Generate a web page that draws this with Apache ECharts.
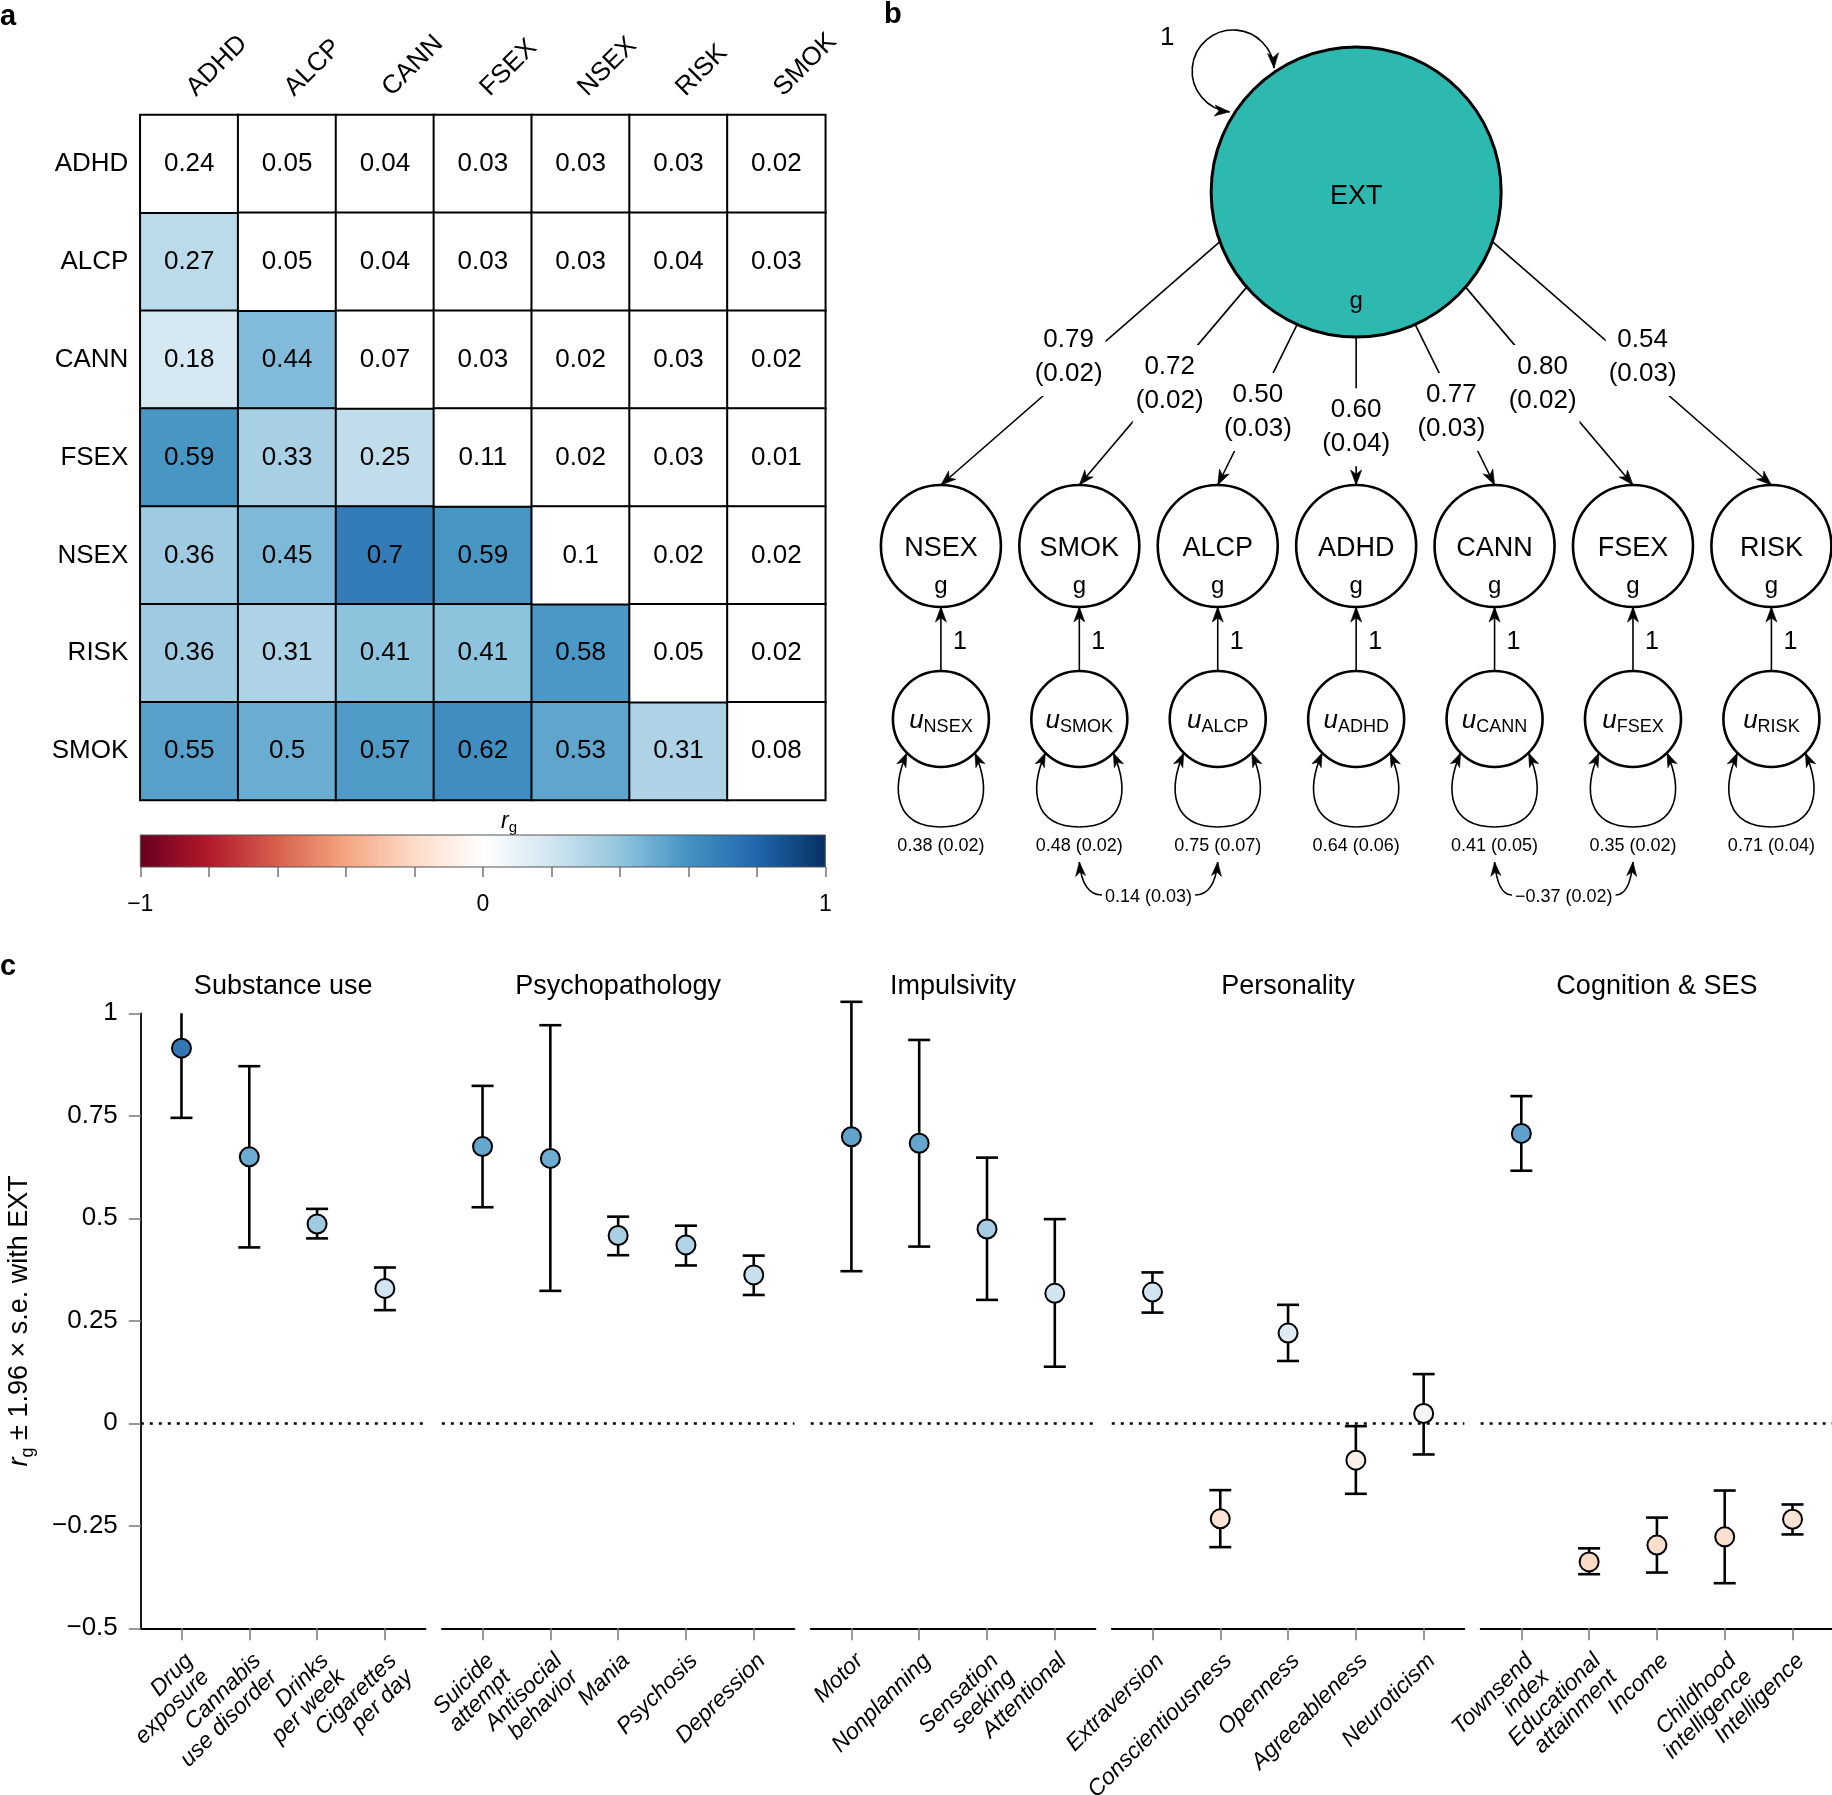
<!DOCTYPE html>
<html>
<head>
<meta charset="utf-8">
<title>Externalizing factor: genetic correlations</title>
<script src="https://cdn.jsdelivr.net/npm/echarts@6/dist/echarts.min.js"></script>
<style>
html, body { margin: 0; padding: 0; background: #fff; }
#chart { width: 1832px; height: 1795px; }
</style>
</head>
<body>
<div id="chart"></div>
<script>
// ======================= DATA =======================
// Panel a: lower triangle = rg, diagonal = h2, upper triangle = s.e.
const matrixTraits = ['ADHD', 'ALCP', 'CANN', 'FSEX', 'NSEX', 'RISK', 'SMOK'];
const rowADHD = [0.24, 0.05, 0.04, 0.03, 0.03, 0.03, 0.02];
const rowALCP = [0.27, 0.05, 0.04, 0.03, 0.03, 0.04, 0.03];
const rowCANN = [0.18, 0.44, 0.07, 0.03, 0.02, 0.03, 0.02];
const rowFSEX = [0.59, 0.33, 0.25, 0.11, 0.02, 0.03, 0.01];
const rowNSEX = [0.36, 0.45, 0.7, 0.59, 0.1, 0.02, 0.02];
const rowRISK = [0.36, 0.31, 0.41, 0.41, 0.58, 0.05, 0.02];
const rowSMOK = [0.55, 0.5, 0.57, 0.62, 0.53, 0.31, 0.08];
const matrixRows = [rowADHD, rowALCP, rowCANN, rowFSEX, rowNSEX, rowRISK, rowSMOK];
const colorbarRange = [-1, 1];

// Panel b: one-factor model
const pathNodes = ['NSEX', 'SMOK', 'ALCP', 'ADHD', 'CANN', 'FSEX', 'RISK'];
const loadings = [0.79, 0.72, 0.50, 0.60, 0.77, 0.80, 0.54];
const loadingSE = [0.02, 0.02, 0.03, 0.04, 0.03, 0.02, 0.03];
const residVar = [0.38, 0.48, 0.75, 0.64, 0.41, 0.35, 0.71];
const residVarSE = [0.02, 0.02, 0.07, 0.06, 0.05, 0.02, 0.04];
const residCovFrom = ['SMOK', 'CANN'];
const residCovTo = ['ALCP', 'FSEX'];
const residCovEst = [0.14, -0.37];
const residCovSE = [0.03, 0.02];
const factorName = 'EXT';
const factorVariance = 1;

// Panel c: rg with EXT +/- 1.96 s.e.
const facetTitles = ['Substance use', 'Psychopathology', 'Impulsivity', 'Personality', 'Cognition & SES'];
const facetTraits = [
  ['Drug\nexposure', 'Cannabis\nuse disorder', 'Drinks\nper week', 'Cigarettes\nper day'],
  ['Suicide\nattempt', 'Antisocial\nbehavior', 'Mania', 'Psychosis', 'Depression'],
  ['Motor', 'Nonplanning', 'Sensation\nseeking', 'Attentional'],
  ['Extraversion', 'Conscientiousness', 'Openness', 'Agreeableness', 'Neuroticism'],
  ['Townsend\nindex', 'Educational\nattainment', 'Income', 'Childhood\nintelligence', 'Intelligence']
];
const facetRg = [
  [0.915, 0.650, 0.486, 0.329],
  [0.675, 0.646, 0.458, 0.435, 0.362],
  [0.699, 0.683, 0.474, 0.317],
  [0.320, -0.233, 0.220, -0.090, 0.024],
  [0.707, -0.338, -0.297, -0.277, -0.234]
];
const facetLo = [
  [0.745, 0.429, 0.451, 0.276],
  [0.527, 0.323, 0.410, 0.385, 0.313],
  [0.371, 0.431, 0.301, 0.138],
  [0.270, -0.302, 0.152, -0.172, -0.076],
  [0.616, -0.368, -0.364, -0.390, -0.271]
];
const facetHi = [
  [1.0, 0.871, 0.523, 0.380],
  [0.823, 0.971, 0.504, 0.482, 0.409],
  [1.028, 0.935, 0.648, 0.498],
  [0.368, -0.163, 0.289, -0.007, 0.120],
  [0.798, -0.305, -0.230, -0.164, -0.198]
];
const truncatedUpper = ['Drug\nexposure'];

// ======================= STYLE / LAYOUT =======================
const FF = '"Liberation Sans", Arial, Helvetica, sans-serif';
const heatPalette = ['#67001F', '#B2182B', '#D6604D', '#F4A582', '#FDDBC7', '#FFFFFF', '#D1E5F0', '#92C5DE', '#4393C3', '#2166AC', '#053061'];
const pointPalette = ['#B2182B', '#EF8A62', '#FDDBC7', '#F7F7F7', '#D1E5F0', '#67A9CF', '#2166AC'];
const EXT_FILL = '#2EB9B0';

const HM = { left: 140.3, top: 115, size: 685 };
const HM_COL_LABEL_GAP = 14, HM_COL_LABEL_DX = 11;
const CB = { left: 140.3, top: 835, width: 685, height: 32 };
const DG = { left: 940.9, top: 0, width: 830.5, height: 930 };
const EXT_IDX = 3, EXT_Y = 192, EXT_R = 145;
const NODE_Y = 546, NODE_R = 60;
const U_Y = 719, U_R = 48;
const ONE_Y = 642;
const VAR_Y = 846;
const COV_TIP_Y = 862, COV_LABEL_Y = 897;
const LOAD_ANGLE = [-70, -49, -24, 0, 24, 49, 70];
const LOAD_LABEL_T = [0.474, 0.49, 0.545, 0.61, 0.545, 0.49, 0.474];
const LOAD_LABEL_DX = [-19, 5, 4, 0, -7, -5, 18];
const SELF_LOOP = { dx: -123, dy: -121, r: 41, start: 95, end: 356 };

const UNIT = 67.8, PAD = 0.6, GAP = 16.3, C_LEFT = 140.8, C_TOP = 1013.3, C_H = 615, FACET_TITLE_Y = 987;

function fmt(v, d) { return (v < 0 ? '\u2212' : '') + Math.abs(v).toFixed(d); }
const measureCtx = document.createElement('canvas').getContext('2d');
function textWidth(str, size) { measureCtx.font = size + 'px ' + FF; return measureCtx.measureText(str).width; }

function arrowHead(tx, ty, dx, dy, len, hw) {
  const m = Math.hypot(dx, dy); dx /= m; dy /= m;
  const bx = tx - dx * len, by = ty - dy * len;
  const nx = -dy, ny = dx;
  return { type: 'polygon', shape: { points: [[tx, ty], [bx + nx * hw, by + ny * hw], [tx - dx * len * 0.72, ty - dy * len * 0.72], [bx - nx * hw, by - ny * hw]] },
    style: { fill: '#000', stroke: '#000', lineWidth: 0.6 } };
}
function txt(x, y, s, size, extra) {
  return { type: 'text', style: Object.assign({ x: x, y: y, text: s, fontSize: size, fontFamily: FF, fill: '#000',
    align: 'center', verticalAlign: 'middle', textAlign: 'center', textVerticalAlign: 'middle' }, extra || {}) };
}
const LINE = { stroke: '#000', lineWidth: 1.6, fill: null };

// ======================= BUILD OPTION =======================
const grids = [], xAxes = [], yAxes = [], series = [], graphics = [];

// ---- Panel a: heatmap
grids.push({ left: HM.left, top: HM.top, width: HM.size, height: HM.size, containLabel: false, outerBoundsMode: 'none' });
xAxes.push({ gridIndex: 0, type: 'category', data: matrixTraits, position: 'top',
  axisLine: { show: false }, axisTick: { show: false }, splitLine: { show: false }, axisLabel: { show: false } });
yAxes.push({ gridIndex: 0, type: 'category', data: matrixTraits, inverse: true,
  axisLine: { show: false }, axisTick: { show: false }, splitLine: { show: false },
  axisLabel: { interval: 0, margin: 12, fontSize: 26, fontFamily: FF, color: '#000' } });
const lowerData = [], upperData = [];
matrixRows.forEach((row, r) => row.forEach((v, c) => (c < r ? lowerData : upperData).push([c, r, v])));
const hmLabel = { show: true, formatter: p => String(p.value[2]), fontSize: 26, fontFamily: FF, color: '#000' };
series.push({ type: 'heatmap', xAxisIndex: 0, yAxisIndex: 0, data: lowerData, label: hmLabel,
  itemStyle: { borderColor: '#000', borderWidth: 2 }, emphasis: { disabled: true } });
series.push({ type: 'heatmap', xAxisIndex: 0, yAxisIndex: 0, data: upperData, label: hmLabel,
  itemStyle: { color: '#fff', borderColor: '#000', borderWidth: 2 }, emphasis: { disabled: true } });
// rotated column labels, anchored at each column through the category axis
series.push({ type: 'custom', xAxisIndex: 0, yAxisIndex: 0, silent: true, clip: false, z: 5,
  data: matrixTraits.map((t, j) => [j, 0]),
  renderItem: (params, api) => {
    const j = api.value(0);
    const p = api.coord([j, 0]);
    const cell = api.size([1, 1]);
    const ax = p[0] + HM_COL_LABEL_DX, ay = p[1] - cell[1] / 2 - HM_COL_LABEL_GAP;
    return { type: 'text', x: ax, y: ay, rotation: Math.PI / 4,
      style: { x: 0, y: 0, text: matrixTraits[j], fontSize: 26, fontFamily: FF, fill: '#000',
        align: 'left', verticalAlign: 'bottom', textAlign: 'left', textVerticalAlign: 'bottom' } };
  } });

// ---- colorbar
grids.push({ left: CB.left, top: CB.top, width: CB.width, height: CB.height, containLabel: false, outerBoundsMode: 'none' });
xAxes.push({ gridIndex: 1, type: 'value', min: colorbarRange[0], max: colorbarRange[1], interval: 0.2,
  axisLine: { show: false }, splitLine: { show: false },
  axisTick: { show: true, length: 10, lineStyle: { color: '#777', width: 1.5 } },
  axisLabel: { margin: 26, fontSize: 23, fontFamily: FF, color: '#000', showMinLabel: true, showMaxLabel: true,
    formatter: v => Math.abs(v) < 1e-9 ? '0' : (Math.abs(Math.abs(v) - 1) < 1e-9 ? fmt(v, 0) : '') } });
yAxes.push({ gridIndex: 1, type: 'value', min: 0, max: 1, show: false });
series.push({ type: 'custom', xAxisIndex: 1, yAxisIndex: 1, data: [[colorbarRange[0], colorbarRange[1]]], silent: true,
  renderItem: (params, api) => {
    const p0 = api.coord([api.value(0), 0]);
    const p1 = api.coord([api.value(1), 1]);
    const grad = new echarts.graphic.LinearGradient(0, 0, 1, 0,
      heatPalette.map((c, k) => ({ offset: k / (heatPalette.length - 1), color: c })));
    return { type: 'rect', shape: { x: p0[0], y: p1[1], width: p1[0] - p0[0], height: p0[1] - p1[1] },
      style: { fill: grad, stroke: '#555', lineWidth: 1 } };
  } });

// ---- Panel b: path diagram
grids.push({ left: DG.left, top: DG.top, width: DG.width, height: DG.height, containLabel: false, outerBoundsMode: 'none' });
xAxes.push({ gridIndex: 2, type: 'value', min: 0, max: pathNodes.length - 1, show: false });
yAxes.push({ gridIndex: 2, type: 'value', min: 0, max: DG.height, inverse: true, show: false });

// loadings
series.push({ type: 'custom', xAxisIndex: 2, yAxisIndex: 2, silent: true, z: 2, clip: false,
  data: loadings.map((v, i) => [i, v, loadingSE[i]]),
  renderItem: (params, api) => {
    const i = api.value(0);
    const [ecx, ecy] = api.coord([EXT_IDX, EXT_Y]);
    const a = LOAD_ANGLE[i] * Math.PI / 180;
    const sx = ecx + EXT_R * Math.sin(a), sy = ecy + EXT_R * Math.cos(a);
    const [tx, ty] = api.coord([i, NODE_Y - NODE_R - 1]);
    const t = LOAD_LABEL_T[i];
    const lx = sx + t * (tx - sx) + LOAD_LABEL_DX[i], ly = sy + t * (ty - sy);
    return { type: 'group', children: [
      { type: 'line', shape: { x1: sx, y1: sy, x2: tx, y2: ty }, style: LINE },
      arrowHead(tx, ty, tx - sx, ty - sy, 15, 5.5),
      txt(lx, ly, fmt(api.value(1), 2) + '\n(' + fmt(api.value(2), 2) + ')', 26,
        { lineHeight: 34, backgroundColor: '#fff', padding: [5, 3] })
    ] };
  } });

// factor
series.push({ type: 'custom', xAxisIndex: 2, yAxisIndex: 2, silent: true, z: 3, clip: false,
  data: [[EXT_IDX, factorVariance]],
  renderItem: (params, api) => {
    const [cx, cy] = api.coord([api.value(0), EXT_Y]);
    const lcx = cx + SELF_LOOP.dx, lcy = cy + SELF_LOOP.dy, r = SELF_LOOP.r;
    const s = SELF_LOOP.start * Math.PI / 180, e = SELF_LOOP.end * Math.PI / 180;
    const sx = lcx + r * Math.cos(s), sy = lcy + r * Math.sin(s);
    const ex = lcx + r * Math.cos(e), ey = lcy + r * Math.sin(e);
    return { type: 'group', children: [
      { type: 'ellipse', shape: { cx: cx, cy: cy, rx: EXT_R, ry: EXT_R }, style: { fill: EXT_FILL, stroke: '#000', lineWidth: 3 } },
      txt(cx, cy + 5, factorName, 27),
      txt(cx, cy + 109, 'g', 24),
      { type: 'arc', shape: { cx: lcx, cy: lcy, r: r, startAngle: s, endAngle: e, clockwise: true }, style: LINE },
      arrowHead(sx, sy, Math.sin(s), -Math.cos(s), 15, 5.5),
      arrowHead(ex, ey, -Math.sin(e), Math.cos(e), 15, 5.5),
      txt(lcx - 66, lcy - 33, String(api.value(1)), 26)
    ] };
  } });

// observed nodes, residuals
series.push({ type: 'custom', xAxisIndex: 2, yAxisIndex: 2, silent: true, z: 3, clip: false,
  data: pathNodes.map((n, i) => [i, residVar[i], residVarSE[i]]),
  renderItem: (params, api) => {
    const i = api.value(0);
    const [cx, gy] = api.coord([i, NODE_Y]);
    const uy = api.coord([i, U_Y])[1];
    const name = pathNodes[i];
    const ch = [];
    ch.push({ type: 'ellipse', shape: { cx: cx, cy: gy, rx: NODE_R, ry: NODE_R + 1 }, style: { fill: '#fff', stroke: '#000', lineWidth: 2.6 } });
    ch.push(txt(cx, gy + 3, name, 27));
    ch.push(txt(cx, gy + 40, 'g', 24));
    ch.push({ type: 'ellipse', shape: { cx: cx, cy: uy, rx: U_R, ry: U_R }, style: { fill: '#fff', stroke: '#000', lineWidth: 2.6 } });
    ch.push({ type: 'text', style: { x: cx, y: uy + 2, text: '{u|u}{s|' + name + '}', align: 'center', verticalAlign: 'middle',
      textAlign: 'center', textVerticalAlign: 'middle',
      rich: { u: { fontStyle: 'italic', fontSize: 26, lineHeight: 30, fontFamily: FF, fill: '#000' },
              s: { fontSize: 18, lineHeight: 18, verticalAlign: 'bottom', fontFamily: FF, fill: '#000' } } } });
    const topY = gy + NODE_R + 1, botY = uy - U_R;
    ch.push({ type: 'line', shape: { x1: cx, y1: botY, x2: cx, y2: topY }, style: LINE });
    ch.push(arrowHead(cx, topY, 0, -1, 15, 5.5));
    ch.push(txt(cx + 19, api.coord([i, ONE_Y])[1], '1', 25));
    // variance loop
    const tipDx = 34;
    const tipY = uy + Math.sqrt(U_R * U_R - tipDx * tipDx);
    const loopBot = uy + 108;
    ch.push({ type: 'bezierCurve', shape: { x1: cx - tipDx, y1: tipY, cpx1: cx - 50, cpy1: uy + 71, cpx2: cx - 46, cpy2: loopBot, x2: cx, y2: loopBot }, style: LINE });
    ch.push({ type: 'bezierCurve', shape: { x1: cx + tipDx, y1: tipY, cpx1: cx + 50, cpy1: uy + 71, cpx2: cx + 46, cpy2: loopBot, x2: cx, y2: loopBot }, style: LINE });
    ch.push(arrowHead(cx - tipDx, tipY, 16, -37, 14, 5));
    ch.push(arrowHead(cx + tipDx, tipY, -16, -37, 14, 5));
    ch.push(txt(cx, api.coord([i, VAR_Y])[1], fmt(api.value(1), 2) + ' (' + fmt(api.value(2), 2) + ')', 18));
    return { type: 'group', children: ch };
  } });

// residual covariances
series.push({ type: 'custom', xAxisIndex: 2, yAxisIndex: 2, silent: true, z: 3, clip: false,
  data: residCovEst.map((v, k) => [pathNodes.indexOf(residCovFrom[k]), pathNodes.indexOf(residCovTo[k]), v, residCovSE[k]]),
  renderItem: (params, api) => {
    const [x1, ty] = api.coord([api.value(0), COV_TIP_Y]);
    const x2 = api.coord([api.value(1), COV_TIP_Y])[0];
    const ly = api.coord([0, COV_LABEL_Y])[1];
    const label = fmt(api.value(2), 2) + ' (' + fmt(api.value(3), 2) + ')';
    const mid = (x1 + x2) / 2, hw = textWidth(label, 18) / 2 + 3;
    return { type: 'group', children: [
      { type: 'bezierCurve', shape: { x1: x1, y1: ty, cpx1: x1 + 3, cpy1: ly - 2, x2: mid - hw, y2: ly - 2 }, style: LINE },
      { type: 'bezierCurve', shape: { x1: x2, y1: ty, cpx1: x2 - 3, cpy1: ly - 2, x2: mid + hw, y2: ly - 2 }, style: LINE },
      arrowHead(x1, ty, -3, -(ly - 2 - ty), 14, 5),
      arrowHead(x2, ty, 3, -(ly - 2 - ty), 14, 5),
      txt(mid, ly, label, 18)
    ] };
  } });

// ---- Panel c: facets
const scatterIdx = [];
let gl = C_LEFT;
const yLabelFmt = v => Math.abs(v) < 1e-9 ? '0' : (v < 0 ? '\u2212' : '') + String(+Math.abs(v).toFixed(2));
facetTraits.forEach((names, f) => {
  const n = names.length;
  const w = (n - 1 + 2 * PAD) * UNIT;
  const gi = grids.length;
  grids.push({ left: gl, top: C_TOP, width: w, height: C_H, containLabel: false, outerBoundsMode: 'none' });
  const idx = names.map((_, i) => i);
  xAxes.push({ gridIndex: gi, type: 'value', min: -PAD, max: n - 1 + PAD,
    axisLine: { show: true, onZero: false, lineStyle: { color: '#000', width: 1.8 } },
    axisTick: { show: true, customValues: idx, length: 12, lineStyle: { color: '#808080', width: 1.6 } },
    splitLine: { show: false },
    axisLabel: { customValues: idx, formatter: v => names[Math.round(v)], rotate: 45, align: 'right', verticalAlign: 'top',
      margin: 21, fontSize: 23, lineHeight: 23, fontStyle: 'italic', fontFamily: FF, color: '#000',
      showMinLabel: true, showMaxLabel: true, hideOverlap: false } });
  const yAx = { gridIndex: gi, type: 'value', min: -0.5, max: 1, interval: 0.25, splitLine: { show: false } };
  if (f === 0) {
    Object.assign(yAx, {
      axisLine: { show: true, onZero: false, lineStyle: { color: '#000', width: 1.8 } },
      axisTick: { show: true, length: 12, lineStyle: { color: '#808080', width: 1.6 } },
      axisLabel: { formatter: yLabelFmt, fontSize: 26, margin: 23, fontFamily: FF, color: '#000', showMinLabel: true, showMaxLabel: true },
      name: '{r|r}{g|g}{t| \u00b1 1.96 \u00d7 s.e. with EXT}', nameLocation: 'middle', nameRotate: 90, nameGap: 104, nameMoveOverlap: false,
      nameTextStyle: { rich: {
        r: { fontStyle: 'italic', fontSize: 27, lineHeight: 34, fontFamily: FF, color: '#000' },
        g: { fontSize: 18, lineHeight: 18, verticalAlign: 'bottom', fontFamily: FF, color: '#000' },
        t: { fontSize: 27, lineHeight: 34, fontFamily: FF, color: '#000' } } }
    });
  } else {
    yAx.show = false;
  }
  yAxes.push(yAx);
  series.push({ type: 'custom', xAxisIndex: gi, yAxisIndex: gi, z: 2, clip: false, silent: true,
    encode: { x: 0, y: [1, 2] },
    data: names.map((nm, i) => [i, facetLo[f][i], facetHi[f][i], truncatedUpper.includes(nm) ? 1 : 0]),
    renderItem: (params, api) => {
      const x = api.value(0);
      const pLo = api.coord([x, api.value(1)]);
      const pHi = api.coord([x, api.value(2)]);
      const hw = 11, st = { stroke: '#000', lineWidth: 2.6 };
      const ch = [
        { type: 'line', shape: { x1: pLo[0], y1: pLo[1], x2: pHi[0], y2: pHi[1] }, style: st },
        { type: 'line', shape: { x1: pLo[0] - hw, y1: pLo[1], x2: pLo[0] + hw, y2: pLo[1] }, style: st }
      ];
      if (api.value(3) !== 1) ch.push({ type: 'line', shape: { x1: pHi[0] - hw, y1: pHi[1], x2: pHi[0] + hw, y2: pHi[1] }, style: st });
      return { type: 'group', children: ch };
    },
    markLine: { silent: true, symbol: ['none', 'none'], label: { show: false }, animation: false,
      lineStyle: { type: [3, 6], color: '#000', width: 2.5 }, data: [{ yAxis: 0 }] } });
  scatterIdx.push(series.length);
  series.push({ type: 'scatter', xAxisIndex: gi, yAxisIndex: gi, z: 3, clip: false, silent: true,
    symbol: 'circle', symbolSize: 19,
    itemStyle: { borderColor: '#000', borderWidth: 2, opacity: 1 },
    data: names.map((nm, i) => [i, facetRg[f][i]]) });
  graphics.push({ type: 'text', x: gl + w / 2, y: FACET_TITLE_Y,
    style: { text: facetTitles[f], fontSize: 27, fontFamily: FF, fill: '#000', align: 'center', verticalAlign: 'middle', textAlign: 'center', textVerticalAlign: 'middle' } });
  gl += w + GAP;
});

// panel letters + colorbar title
[['a', 0, 17], ['b', 884, 15], ['c', 0, 967]].forEach(([t, x, y]) => graphics.push({ type: 'text', x: x, y: y,
  style: { text: t, fontSize: 29, fontWeight: 'bold', fontFamily: FF, fill: '#000', align: 'left', verticalAlign: 'middle', textAlign: 'left', textVerticalAlign: 'middle' } }));
graphics.push({ type: 'text', x: 509, y: 822, style: { text: '{r|r}{g|g}', align: 'center', verticalAlign: 'middle', textAlign: 'center', textVerticalAlign: 'middle',
  rich: { r: { fontStyle: 'italic', fontSize: 23, lineHeight: 26, fontFamily: FF, fill: '#000' },
          g: { fontSize: 15, lineHeight: 15, verticalAlign: 'bottom', fontFamily: FF, fill: '#000' } } } });

const chart = echarts.init(document.getElementById('chart'), null, { renderer: 'canvas', width: 1832, height: 1795 });
chart.setOption({
  animation: false,
  backgroundColor: '#fff',
  textStyle: { fontFamily: FF },
  grid: grids,
  xAxis: xAxes,
  yAxis: yAxes,
  visualMap: [
    { type: 'continuous', show: false, min: -1, max: 1, dimension: 2, seriesIndex: 0, inRange: { color: heatPalette } },
    { type: 'continuous', show: false, min: -1, max: 1, dimension: 1, seriesIndex: scatterIdx, inRange: { color: pointPalette } }
  ],
  series: series,
  graphic: graphics
});
</script>
</body>
</html>
